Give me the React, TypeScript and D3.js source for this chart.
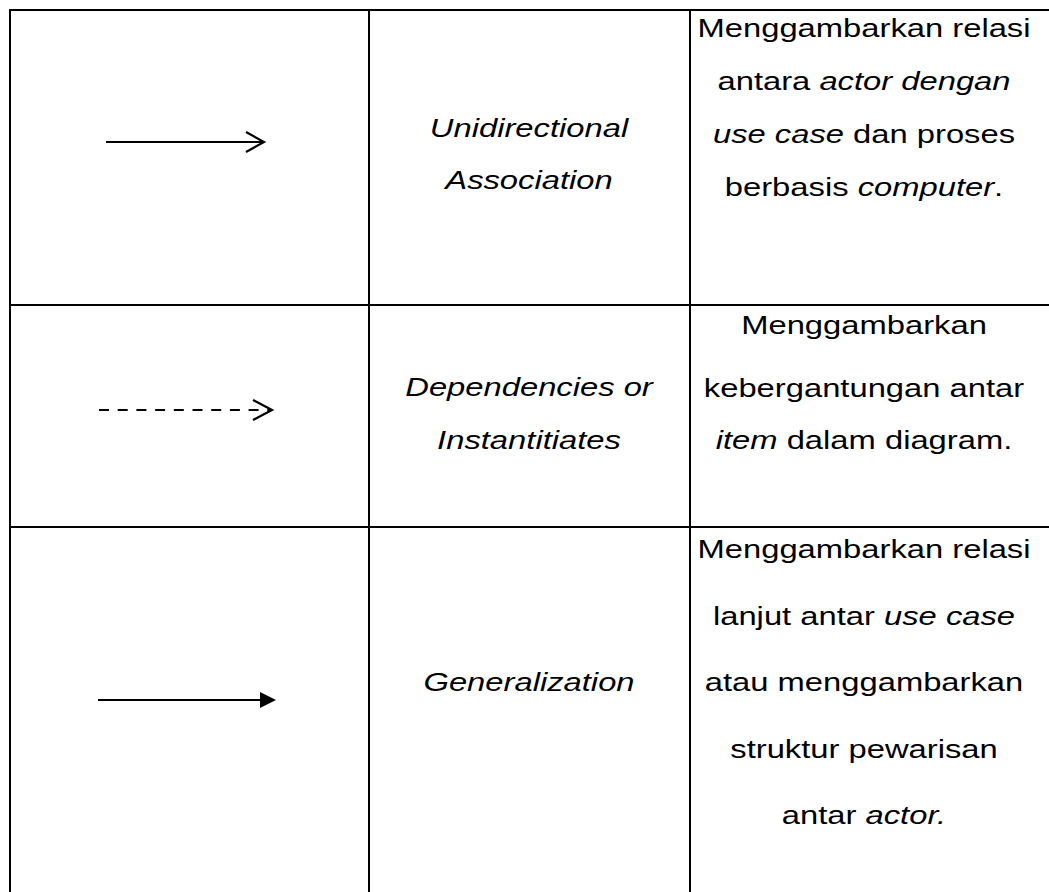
import React from 'react'
import * as d3 from 'd3'

// table content, one entry per row
const symbols = ['open', 'dashed', 'filled']
const names = [
  ['Unidirectional', 'Association'],
  ['Dependencies or', 'Instantitiates'],
  ['Generalization'],
]
// *...* marks the italic parts
const descriptions = [
  ['Menggambarkan relasi', 'antara *actor dengan*', '*use case* dan proses', 'berbasis *computer*.'],
  ['Menggambarkan', 'kebergantungan antar', '*item* dalam diagram.'],
  ['Menggambarkan relasi', 'lanjut antar *use case*', 'atau menggambarkan', 'struktur pewarisan', 'antar *actor.*'],
]

const W = 1049
const H = 892
const colEdges = [10, 369, 690]
const rowEdges = [10, 305, 527]
const nameX = 529
const descX = 864
const fontSize = 25
const stretch = 1.31

// baselines
const nameBaselines = [[137, 189], [396, 449], [691]]
const descBaselines = [
  [37, 90, 143, 196],
  [334, 397, 449],
  [558, 625, 691, 758, 824],
]
const arrowY = [142, 410, 700]
const arrowX = [
  [106, 264],
  [99, 272],
  [98, 276],
]

function segments(line) {
  return line.split('*').map((t, i) => ({ t, italic: i % 2 === 1 })).filter(s => s.t.length)
}

function Line({ x, y, text, italic }) {
  return (
    <text
      transform={`translate(${x},${y}) scale(${stretch},1)`}
      textAnchor="middle"
      fontFamily="'Liberation Sans', Arial, sans-serif"
      fontSize={fontSize}
      fill="#000"
      style={{ whiteSpace: 'pre' }}
    >
      {segments(text).map((s, i) => (
        <tspan key={i} fontStyle={s.italic || italic ? 'italic' : 'normal'}>
          {s.t}
        </tspan>
      ))}
    </text>
  )
}

function Arrow({ kind, x0, x1, y }) {
  const line = d3.line()
  if (kind === 'filled') {
    const tip = x1 - 16
    return (
      <g>
        <path d={line([[x0, y], [tip, y]])} stroke="#000" strokeWidth={2.2} fill="none" />
        <path d={line([[tip, y - 8], [x1, y], [tip, y + 8]]) + 'Z'} fill="#000" />
      </g>
    )
  }
  const headLen = kind === 'dashed' ? 19 : 18
  const headH = 10
  return (
    <g>
      <path
        d={line([[x0, y], [x1 - 2, y]])}
        stroke="#000"
        strokeWidth={2.2}
        fill="none"
        strokeDasharray={kind === 'dashed' ? '10 8.7' : null}
      />
      <path
        d={line([[x1 - headLen, y - headH], [x1, y], [x1 - headLen, y + headH]])}
        stroke="#000"
        strokeWidth={2.2}
        fill="none"
      />
    </g>
  )
}

export default function App() {
  return (
    <svg
      width={W}
      height={H}
      style={{ position: 'absolute', left: 0, top: 0, background: '#fff' }}
    >
      <rect width={W} height={H} fill="#fff" />
      {rowEdges.map((y, i) => (
        <line key={'r' + i} x1={colEdges[0] - 1} x2={W} y1={y} y2={y} stroke="#000" strokeWidth={2} />
      ))}
      {colEdges.map((x, i) => (
        <line key={'c' + i} x1={x} x2={x} y1={rowEdges[0] - 1} y2={H} stroke="#000" strokeWidth={2} />
      ))}
      {symbols.map((kind, i) => (
        <Arrow key={'a' + i} kind={kind} x0={arrowX[i][0]} x1={arrowX[i][1]} y={arrowY[i]} />
      ))}
      {names.map((lines, i) =>
        lines.map((t, j) => <Line key={'n' + i + j} x={nameX} y={nameBaselines[i][j]} text={t} italic />)
      )}
      {descriptions.map((lines, i) =>
        lines.map((t, j) => <Line key={'d' + i + j} x={descX} y={descBaselines[i][j]} text={t} />)
      )}
    </svg>
  )
}
